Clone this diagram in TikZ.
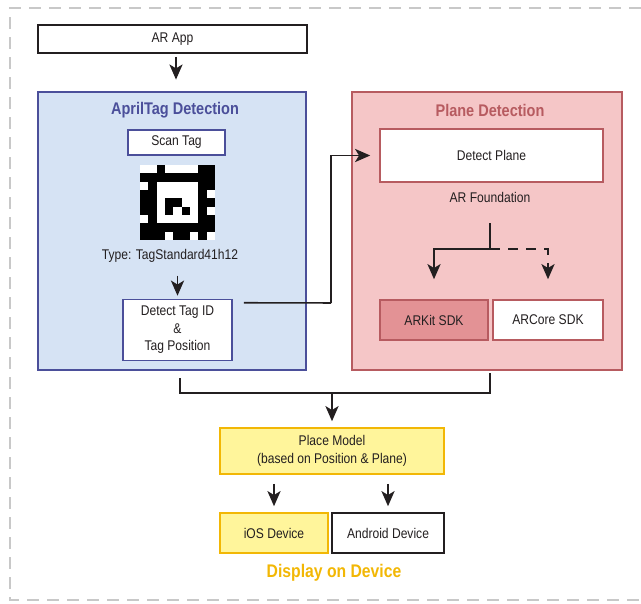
\documentclass[tikz,border=0pt]{standalone}
\usepackage{fontspec}
\setmainfont{Liberation Sans}[FakeStretch=0.86]
\usepackage{tikz}
\usetikzlibrary{arrows.meta}
\definecolor{ink}{HTML}{231F20}
\definecolor{tagblue}{HTML}{4B4F9A}
\definecolor{tagfill}{HTML}{D6E3F4}
\definecolor{planered}{HTML}{B75B60}
\definecolor{planefill}{HTML}{F5C6C7}
\definecolor{kitfill}{HTML}{E39295}
\definecolor{gold}{HTML}{F2B705}
\definecolor{placefill}{HTML}{FFF59B}
\definecolor{framegray}{HTML}{C8C8C8}
\tikzset{
  panel/.style={line width=2pt, inner sep=0pt},
  box/.style={draw=ink, line width=1.1pt, fill=white, text=ink, font=\fontsize{10}{12.5}\selectfont, align=center, inner sep=0pt},
  tagbox/.style={box, draw=tagblue},
  planebox/.style={box, draw=planered},
  goldbox/.style={box, draw=gold, fill=placefill},
  title/.style={font=\bfseries\fontsize{12}{14}\selectfont},
  lbl/.style={text=ink, font=\fontsize{10}{12}\selectfont},
  line/.style={draw=ink, line width=1.1pt},
  arr/.style={line, -{Stealth[length=3.8mm, width=3.3mm, inset=1mm]}},
  framedash/.style={draw=framegray, line width=1pt, dash pattern=on 3mm off 2mm}
}
\begin{document}
\begin{tikzpicture}[x=0.25mm, y=-0.25mm]
  \useasboundingbox (0,0) rectangle (641,604);
  \draw[framedash] (641,8) -- (10,8) -- (10,600) -- (641,600);

  \node[box, minimum width=67.25mm, minimum height=7mm] (app) at (172.5,39) {AR App};

  % AprilTag side
  \node[panel, draw=tagblue, fill=tagfill, minimum width=67mm, minimum height=69.5mm] (tagpanel) at (172,231) {};
  \node[title, text=tagblue] (tagtitle) at (175,110) {AprilTag Detection};
  \node[tagbox, minimum width=24.25mm, minimum height=6.25mm] (scan) at (176.5,142.5) {Scan Tag};
  \fill[white] (140,165) rectangle ++(75,75);
  \fill[black] (148.33,173.33) rectangle (206.67,231.67);
  \fill[white] (156.67,181.67) rectangle (198.33,223.33);
  \foreach \c/\r in {2/0,7/0,8/0, 0/8,1/8,2/8,4/8,5/8,7/8,
                     0/1,0/3,0/4,0/5,0/7, 8/1,8/2,8/4,8/6,8/7,
                     3/4,4/4,3/5,5/5}
    \fill[black] ({140+\c*8.333},{165+\r*8.333}) rectangle ++(8.333,8.333);
  \node[lbl] (tagtype) at (170,256) {Type: TagStandard41h12};
  \node[tagbox, minimum width=27.25mm, minimum height=15.25mm] (detect) at (177.5,330)
    {Detect Tag ID\\\&\\Tag Position};

  % Plane side
  \node[panel, draw=planered, fill=planefill, minimum width=67.5mm, minimum height=69.5mm] (planepanel) at (487,231) {};
  \node[title, text=planered] (planetitle) at (490,110) {Plane Detection};
  \node[planebox, minimum width=55.75mm, minimum height=13.25mm] (plane) at (491.5,155.5) {Detect Plane};
  \node[lbl] (found) at (490,197) {AR Foundation};
  \node[planebox, fill=kitfill, minimum width=27mm, minimum height=10mm] (arkit) at (434,320) {ARKit SDK};
  \node[planebox, minimum width=27.5mm, minimum height=10mm] (arcore) at (548,320) {ARCore SDK};

  % bottom
  \node[goldbox, minimum width=56mm, minimum height=11.5mm] (place) at (332,451)
    {Place Model\\(based on Position \& Plane)};
  \node[goldbox, minimum width=27mm, minimum height=10mm] (ios) at (274,533) {iOS Device};
  \node[box, minimum width=28mm, minimum height=10mm] (android) at (388,533) {Android Device};
  \node[title, text=gold, font=\bfseries\fontsize{13}{15}\selectfont] (display) at (334,573) {Display on Device};

  \coordinate (bend) at (331,303);
  \coordinate (split) at (490,249);
  \coordinate (join) at (332,393);

  \draw[arr, shorten <=0.75mm, shorten >=2.75mm] (app.south -| 176,0) -- (tagpanel.north -| 176,0);
  \draw[arr, shorten <=2mm, shorten >=0.75mm] (tagtype.south -| detect.north) -- (detect.north);
  \draw[line] ([xshift=2.75mm, yshift=-1mm]detect.north east) -- (bend);
  \draw[arr, shorten >=2.25mm] (bend) |- (plane.west);
  \draw[line, shorten <=4mm] (found.south) -- (split);
  \draw[arr, shorten >=5mm] (split) -| (arkit.north);
  \draw[arr, dash pattern=on 2.5mm off 2mm, shorten >=5mm] (split) -| (arcore.north);
  \draw[line] ([xshift=2mm, yshift=-1.75mm]tagpanel.south) |- (join) -| ([xshift=0.75mm, yshift=-0.5mm]planepanel.south);
  \draw[arr, shorten >=1.5mm] (join) -- (place.north);
  \draw[arr, shorten <=2.25mm, shorten >=1.5mm] (ios.north |- place.south) -- (ios.north);
  \draw[arr, shorten <=2.25mm, shorten >=1.5mm] (android.north |- place.south) -- (android.north);
\end{tikzpicture}
\end{document}
